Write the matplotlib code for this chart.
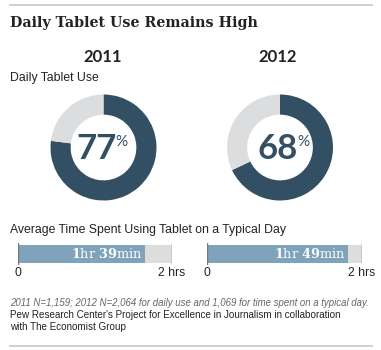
import matplotlib
matplotlib.use("Agg")
import matplotlib.pyplot as plt
from matplotlib.lines import Line2D

plt.rcParams["mathtext.fontset"] = "dejavuserif"

W, H = 381, 350
DPI = 100

years = ["2011", "2012"]
daily_use_pct = [77, 68]
time_minutes = [99, 109]
time_hours_lbl = ["1", "1"]
time_min_lbl = ["39", "49"]
axis_max_min = 120
axis_tick_labels = ["0", "2 hrs"]

title = "Daily Tablet Use Remains High"
sub1 = "Daily Tablet Use"
sub2 = "Average Time Spent Using Tablet on a Typical Day"
footnote = "2011 N=1,159; 2012 N=2,064 for daily use and 1,069 for time spent on a typical day."
source = "Pew Research Center's Project for Excellence in Journalism in collaboration\nwith The Economist Group"

DARK = "#334f63"
LIGHT = "#dcddde"
BLUE = "#7fa3ba"
BARGRAY = "#dddddd"
TXT = "#222222"

fig = plt.figure(figsize=(W / DPI, H / DPI), dpi=DPI)
fig.patch.set_facecolor("white")


def ax_px(x0, y0, w, h):
    return fig.add_axes([x0 / W, 1 - (y0 + h) / H, w / W, h / H])


def fx(x):
    return x / W


def fy(y):
    return 1 - y / H


fig.add_artist(Line2D([fx(10), fx(372)], [fy(5), fy(5)], color="#c8c8c8", lw=1.2))
fig.add_artist(Line2D([fx(10), fx(372)], [fy(346), fy(346)], color="#c8c8c8", lw=1.2))

fig.text(fx(10), fy(22.5), title, fontsize=10.3, fontweight="bold", family="DejaVu Serif",
         color=TXT, va="center", ha="left")
fig.text(fx(10), fy(78), sub1, fontsize=8.8, family="Liberation Sans", color=TXT, va="center")
fig.text(fx(10), fy(230), sub2, fontsize=8.8, family="Liberation Sans", color=TXT, va="center")

donut_cx = [103.5, 280]
year_cx = [103, 278]
num_dx = [-0.13, -0.05]
pct_dx = [0.34, 0.45]
for i in range(2):
    fig.text(fx(year_cx[i]), fy(57), years[i], fontsize=12, fontweight="bold", family="Lato",
             color=TXT, ha="center", va="center")
    r = 53
    ax = ax_px(donut_cx[i] - r, 147.5 - r, 2 * r, 2 * r)
    ax.pie([daily_use_pct[i], 100 - daily_use_pct[i]], colors=[DARK, LIGHT], startangle=90,
           counterclock=False, radius=1, wedgeprops=dict(width=0.38, linewidth=0))
    ax.set_xlim(-1, 1)
    ax.set_ylim(-1, 1)
    ax.set_aspect("equal")
    ax.axis("off")
    ax.text(num_dx[i], -0.03, str(daily_use_pct[i]), fontsize=25, fontweight="bold", family="Lato",
            color=DARK, ha="center", va="center")
    ax.text(pct_dx[i], 0.1, "%", fontsize=11, family="Lato", color=DARK, ha="center", va="center")

bar_x0 = [18, 207]
bar_w = [154, 155]
for i in range(2):
    ax = ax_px(bar_x0[i], 243, bar_w[i], 22)
    ax.set_xlim(0, axis_max_min)
    ax.set_ylim(0, 1)
    ax.barh(0.5, axis_max_min, height=0.82, color=BARGRAY, linewidth=0)
    ax.barh(0.5, time_minutes[i], height=0.82, color=BLUE, linewidth=0)
    ax.axvline(0, color="#777777", lw=1)
    ax.axvline(axis_max_min, color="#777777", lw=1)
    for s in ax.spines.values():
        s.set_visible(False)
    ax.set_yticks([])
    ax.set_xticks([0, axis_max_min])
    ax.set_xticklabels(axis_tick_labels, family="Liberation Sans", fontsize=8.8, color=TXT)
    ax.tick_params(axis="x", length=0, pad=1.5)
    lbl = (r"$\mathbf{" + time_hours_lbl[i] + r"}$hr $\mathbf{" + time_min_lbl[i] + r"}$min")
    ax.text(time_minutes[i] - 2, 0.5, lbl, fontsize=9.3, family="DejaVu Serif", color="white",
            ha="right", va="center")

fig.text(fx(10), fy(303), footnote, fontsize=6.9, style="italic", family="Liberation Sans",
         color="#666666", va="center")
fig.text(fx(10), fy(321), source, fontsize=7.15, family="Liberation Sans", color=TXT,
         va="center", linespacing=1.15)

fig.savefig("out.png", dpi=DPI)
